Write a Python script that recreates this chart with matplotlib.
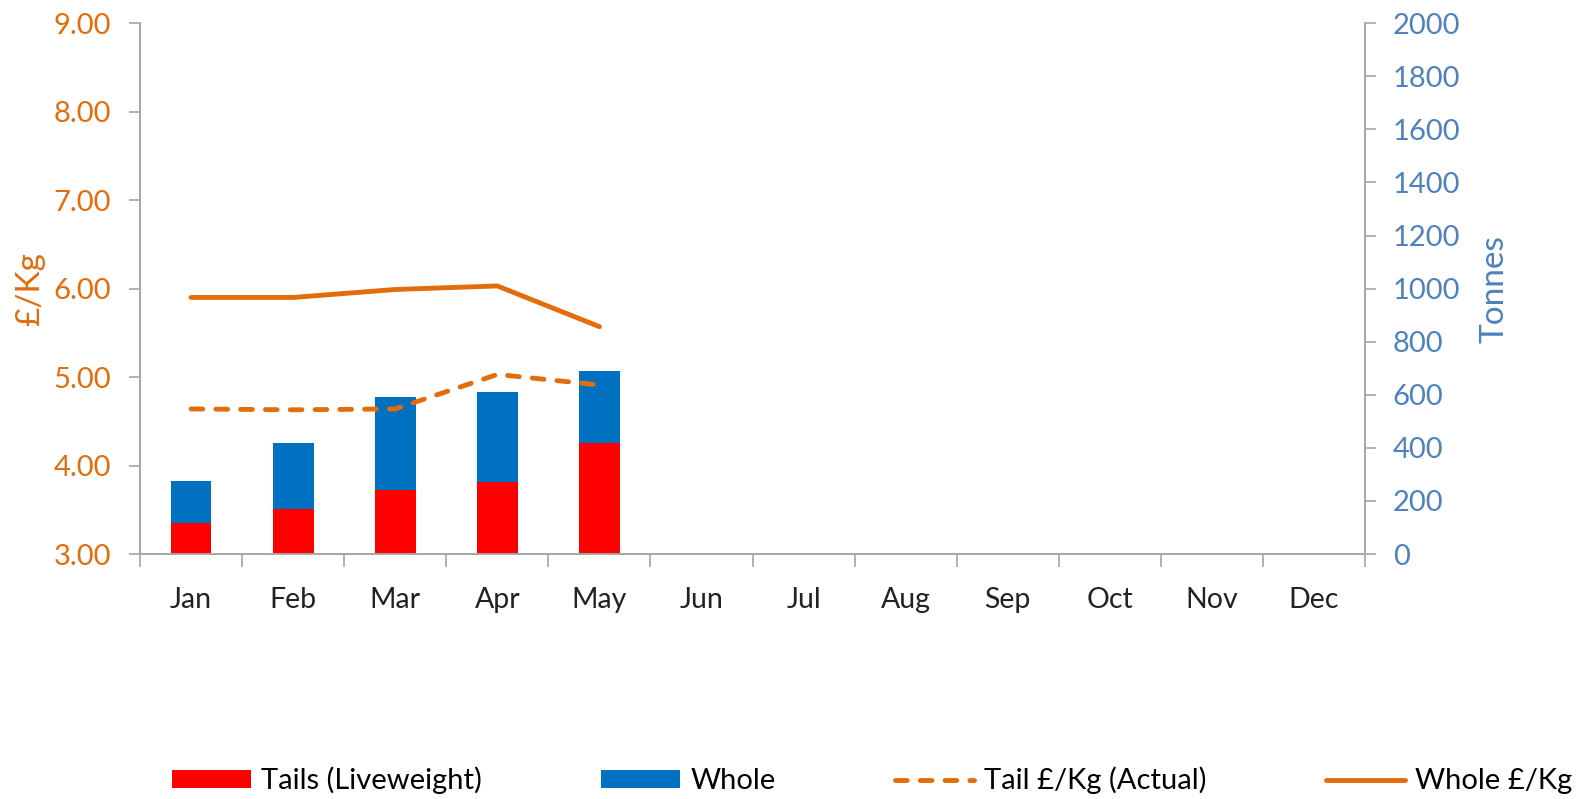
import matplotlib
matplotlib.use('Agg')
import matplotlib.pyplot as plt
import matplotlib.ticker as mticker
import numpy as np

plt.rcParams['font.family'] = ['Lato', 'DejaVu Sans']

# Datos
months = ['Jan', 'Feb', 'Mar', 'Apr', 'May', 'Jun', 'Jul', 'Aug', 'Sep', 'Oct', 'Nov', 'Dec']
tails_tonnes = [117, 171, 242, 271, 418]
whole_tonnes = [160, 247, 351, 341, 271]
tail_price = [4.64, 4.63, 4.64, 5.03, 4.91]
whole_price = [5.90, 5.90, 5.99, 6.03, 5.57]

ORANGE = '#E46C0A'
BLUE_TXT = '#4F81BD'
RED = '#FF0000'
BLUE = '#0070C0'
GREY = '#A6A6A6'

fig = plt.figure(figsize=(15.77, 7.99), dpi=100)
ax = fig.add_axes([0.0888, 0.3066, 0.7768, 0.6644])
ax2 = ax.twinx()

x = np.arange(len(tails_tonnes))
ax2.bar(x, tails_tonnes, width=0.4, color=RED, label='Tails (Liveweight)')
ax2.bar(x, whole_tonnes, width=0.4, bottom=tails_tonnes, color=BLUE, label='Whole')

ax.plot(x, tail_price, color=ORANGE, lw=3.5, ls=(0, (2.4, 2.7)),
        dash_capstyle='round', solid_capstyle='round', label='Tail £/Kg (Actual)')
ax.plot(x, whole_price, color=ORANGE, lw=3.5, solid_capstyle='round', label='Whole £/Kg')

# Lineas encima de las barras
ax.set_zorder(ax2.get_zorder() + 1)
ax.patch.set_visible(False)

ax.set_xlim(-0.5, len(months) - 0.5)
ax.set_ylim(3, 9)
ax2.set_ylim(0, 2000)
ax.yaxis.set_major_locator(mticker.MultipleLocator(1))
ax.yaxis.set_major_formatter(mticker.FormatStrFormatter('%.2f'))
ax2.yaxis.set_major_locator(mticker.MultipleLocator(200))

ax.set_xticks(range(len(months)))
ax.set_xticklabels(months)
ax.set_xticks(np.arange(-0.5, len(months)), minor=True)
ax.tick_params(axis='x', which='major', length=0, pad=24, labelsize=20.5, labelcolor='#222222')
ax.tick_params(axis='x', which='minor', length=9, width=1.2, color=GREY, direction='out')
ax.tick_params(axis='y', length=8, width=1.2, color=GREY, labelsize=21, labelcolor=ORANGE, pad=13)
ax2.tick_params(axis='y', length=8, width=1.2, color=GREY, labelsize=21, labelcolor=BLUE_TXT, pad=12)

for a in (ax, ax2):
    a.spines['top'].set_visible(False)
    for s in ['left', 'right', 'bottom']:
        a.spines[s].set_color(GREY)
        a.spines[s].set_linewidth(1.2)

ax.set_ylabel('£/Kg', color=ORANGE, fontsize=24, labelpad=6)
ax2.set_ylabel('Tonnes', color=BLUE_TXT, fontsize=24, labelpad=14)

h1, l1 = ax2.get_legend_handles_labels()
h2, l2 = ax.get_legend_handles_labels()
fig.legend(h1 + h2, l1 + l2, loc='center', bbox_to_anchor=(0.553, 0.023), ncol=4,
           frameon=False, fontsize=21, handlelength=2.7, handleheight=0.6,
           handletextpad=0.35, columnspacing=4.1)

plt.savefig('out.png', dpi=100)
